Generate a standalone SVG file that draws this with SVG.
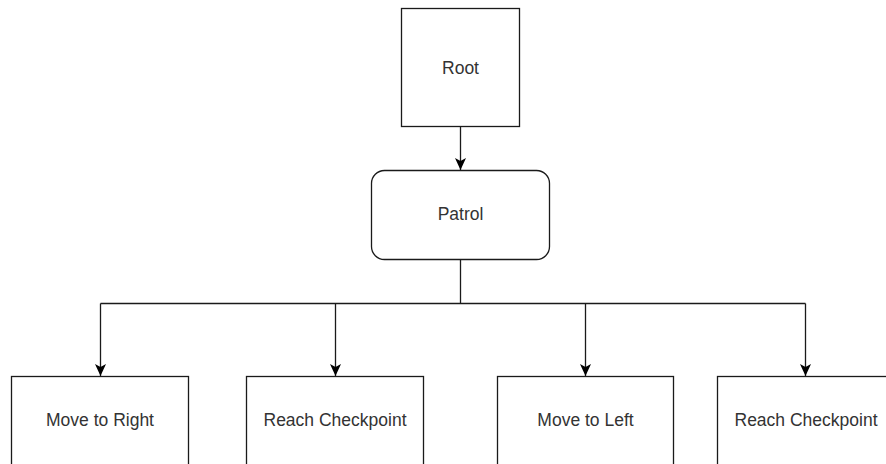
<svg xmlns="http://www.w3.org/2000/svg" width="886" height="464" viewBox="0 0 886 464">
  <style>
    .box { fill: #ffffff; stroke: #1a1a1a; stroke-width: 1.3; }
    .label { font-family: "Liberation Sans", Arial, sans-serif; font-size: 17.5px; fill: #333333; text-anchor: middle; dominant-baseline: central; }
    .wire { fill: none; stroke: #1a1a1a; stroke-width: 1.3; }
  </style>
  <defs>
    <marker id="arrow" viewBox="0 0 12 11" refX="12" refY="5.5" markerWidth="12" markerHeight="11" markerUnits="userSpaceOnUse" orient="auto">
      <path d="M0,0 L12,5.5 L0,11 L3,5.5 Z" fill="#000000"/>
    </marker>
  </defs>
  <rect width="886" height="464" fill="#ffffff"/>

  <g id="connectors">
    <path class="wire" d="M460.5,126.5 V170" marker-end="url(#arrow)"/>
    <path class="wire" d="M460.5,259.5 V303.5"/>
    <path class="wire" d="M100.5,303.5 H805.5"/>
    <path class="wire" d="M100.5,303.5 V376" marker-end="url(#arrow)"/>
    <path class="wire" d="M335.5,303.5 V376" marker-end="url(#arrow)"/>
    <path class="wire" d="M585.5,303.5 V376" marker-end="url(#arrow)"/>
    <path class="wire" d="M805.5,303.5 V376" marker-end="url(#arrow)"/>
  </g>

  <g id="root">
    <rect class="box" x="401.5" y="8.5" width="118" height="118"/>
    <text class="label" x="460.5" y="68">Root</text>
  </g>
  <g id="patrol">
    <rect class="box" x="371.5" y="170.5" width="178" height="89" rx="13" ry="13"/>
    <text class="label" x="460.5" y="214">Patrol</text>
  </g>
  <g id="move-right">
    <rect class="box" x="11.5" y="376.5" width="177" height="100"/>
    <text class="label" x="100" y="420">Move to Right</text>
  </g>
  <g id="reach-checkpoint-1">
    <rect class="box" x="246.5" y="376.5" width="177" height="100"/>
    <text class="label" x="335" y="420">Reach Checkpoint</text>
  </g>
  <g id="move-left">
    <rect class="box" x="497.5" y="376.5" width="176" height="100"/>
    <text class="label" x="585.5" y="420">Move to Left</text>
  </g>
  <g id="reach-checkpoint-2">
    <rect class="box" x="717.5" y="376.5" width="177" height="100"/>
    <text class="label" x="806" y="420">Reach Checkpoint</text>
  </g>
</svg>
